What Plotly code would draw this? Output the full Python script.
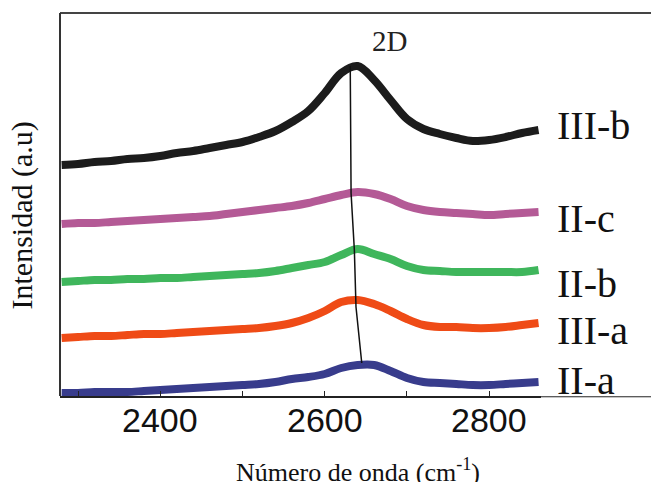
import plotly.graph_objects as go

# Raman shift (cm^-1), sampled every 20 cm^-1
wavenumber = [2280, 2300, 2320, 2340, 2360, 2380, 2400, 2420, 2440, 2460,
              2480, 2500, 2520, 2540, 2560, 2580, 2600, 2620, 2640, 2660,
              2680, 2700, 2720, 2740, 2760, 2780, 2800, 2820, 2840, 2860]

# Stacked intensities (a.u.), offset per sample
int_III_b = [231, 232, 234, 235, 237, 238, 240, 243, 245, 248,
             251, 254, 259, 265, 274, 285, 303, 323, 330, 316,
             296, 277, 267, 262, 258, 255, 256, 259, 263, 266]
int_II_c = [172, 173, 173, 174, 175, 176, 177, 178, 179, 180,
            182, 184, 186, 188, 190, 193, 197, 201, 204, 202,
            197, 190, 186, 184, 183, 182, 181, 182, 183, 184]
int_II_b = [114, 115, 116, 116, 117, 117, 118, 118, 119, 120,
            121, 122, 123, 125, 128, 131, 134, 141, 147, 142,
            137, 130, 126, 125, 124, 124, 124, 124, 124, 126]
int_III_a = [58, 59, 60, 60, 61, 62, 62, 63, 64, 65,
             66, 67, 68, 70, 73, 78, 85, 94, 96, 92,
             85, 77, 71, 69, 69, 68, 68, 69, 71, 73]
int_II_a = [3, 3, 4, 4, 4, 5, 6, 7, 8, 9,
            10, 11, 12, 14, 17, 19, 22, 28, 31, 31,
            25, 18, 14, 13, 12, 11, 11, 12, 13, 14]

sample_names = ["III-b", "II-c", "II-b", "III-a", "II-a"]
sample_colors = ["#1c1c1c", "#b45a96", "#3fb65c", "#ef4b16", "#383c8c"]
series = [int_III_b, int_II_c, int_II_b, int_III_a, int_II_a]

# 2D band maximum of each spectrum (position, intensity)
peak_pos = [2631, 2632, 2636, 2638, 2645]
peak_int = [330, 203, 146, 89, 33]

# Vertical position of each name label (a.u.)
label_level = [271, 178, 113, 66, 16]

tick_vals = [2300, 2400, 2500, 2600, 2700, 2800]
labelled_ticks = [2400, 2600, 2800]

fig = go.Figure()

for name, color, ys in zip(sample_names, sample_colors, series):
    fig.add_trace(go.Scatter(
        x=wavenumber, y=ys, mode="lines", name=name,
        line=dict(color=color, width=8, shape="spline", smoothing=1.0),
        showlegend=False,
    ))

# line joining the 2D maxima
fig.add_trace(go.Scatter(
    x=peak_pos, y=peak_int, mode="lines",
    line=dict(color="#111111", width=1.5), showlegend=False,
))

for name, lvl in zip(sample_names, label_level):
    fig.add_annotation(
        x=1.03, xref="paper", y=lvl, yref="y", text=name,
        xanchor="left", yanchor="middle", showarrow=False,
        font=dict(family="Liberation Serif", size=40, color="#111111"),
    )

# tick numbers, set close under the axis line
for tv in labelled_ticks:
    fig.add_annotation(
        x=tv, xref="x", y=-0.063, yref="paper", text=str(tv),
        xanchor="center", yanchor="middle", showarrow=False,
        font=dict(family="Liberation Sans", size=34, color="#111111"),
    )

fig.add_annotation(
    x=2655, y=355, xref="x", yref="y", text="2D", showarrow=False,
    xanchor="left", yanchor="middle",
    font=dict(family="Liberation Serif", size=29, color="#222222"),
)

# axis titles
fig.add_annotation(
    x=0.62, xref="paper", y=-0.195, yref="paper",
    text="Número de onda (cm<sup>-1</sup>)", showarrow=False,
    xanchor="center", yanchor="middle",
    font=dict(family="Liberation Serif", size=26, color="#111111"),
)
fig.add_annotation(
    x=-0.08, xref="paper", y=0.47, yref="paper",
    text="Intensidad (a.u)", showarrow=False, textangle=-90,
    xanchor="center", yanchor="middle",
    font=dict(family="Liberation Serif", size=30, color="#111111"),
)

# frame around the plot, running out to the right edge
fig.add_shape(type="line", xref="paper", yref="paper",
              x0=0, x1=1.23, y0=1, y1=1,
              line=dict(color="#444444", width=2))
fig.add_shape(type="line", xref="paper", yref="paper",
              x0=0, x1=0, y0=0, y1=1,
              line=dict(color="#333333", width=2))
fig.add_shape(type="line", xref="paper", yref="paper",
              x0=0, x1=1.23, y0=-0.002, y1=-0.002,
              line=dict(color="#222222", width=1))

fig.update_layout(
    width=651, height=482,
    margin=dict(l=60, r=110, t=13, b=86),
    paper_bgcolor="white", plot_bgcolor="white",
    xaxis=dict(
        range=[2278, 2863], tickvals=tick_vals, showticklabels=False,
        ticks="inside", ticklen=5, tickwidth=1, tickcolor="#222222",
        showline=True, linecolor="#222222", linewidth=2,
        showgrid=False, zeroline=False,
    ),
    yaxis=dict(
        range=[0, 383], showticklabels=False, ticks="",
        showgrid=False, zeroline=False, showline=False,
    ),
)

fig.write_html("out.html")
